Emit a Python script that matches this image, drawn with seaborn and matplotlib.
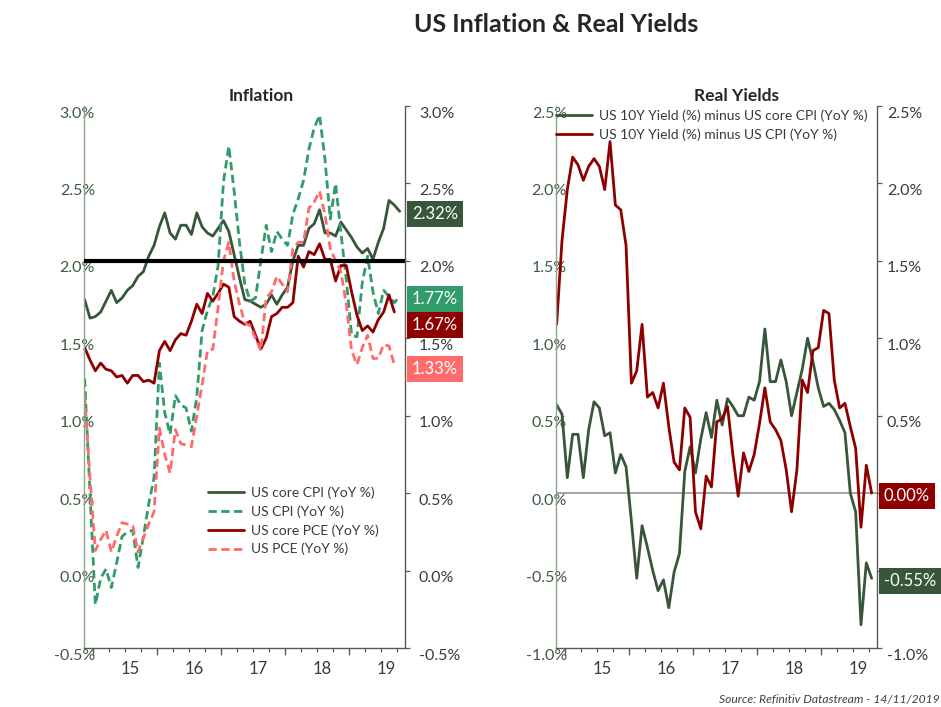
import matplotlib
matplotlib.use("Agg")
import matplotlib.pyplot as plt
import seaborn as sns
import numpy as np
import pandas as pd
from matplotlib.transforms import ScaledTranslation
from matplotlib.ticker import FuncFormatter, FixedLocator

# ---------------- data ----------------
months = pd.date_range("2014-11-01", periods=60, freq="MS")   # Nov 2014 .. Oct 2019

core_cpi = [1.75, 1.63, 1.64, 1.67, 1.74, 1.81, 1.73, 1.76, 1.81, 1.84,
            1.90, 1.93, 2.03, 2.10, 2.22, 2.31, 2.18, 2.14, 2.23, 2.23,
            2.17, 2.31, 2.22, 2.18, 2.16, 2.21, 2.26, 2.19, 2.04, 1.89,
            1.75, 1.74, 1.72, 1.70, 1.72, 1.78, 1.72, 1.78, 1.83, 2.00,
            2.10, 2.10, 2.21, 2.24, 2.33, 2.18, 2.18, 2.16, 2.25, 2.20,
            2.15, 2.09, 2.05, 2.08, 2.01, 2.12, 2.21, 2.39, 2.36, 2.32]
cpi = [1.24, 0.50, -0.22, -0.05, 0.01, -0.11, 0.05, 0.22, 0.25, 0.26,
       0.02, 0.22, 0.43, 0.60, 1.34, 1.02, 0.88, 1.13, 1.07, 1.05,
       0.90, 1.12, 1.55, 1.68, 1.77, 1.97, 2.51, 2.74, 2.45, 2.12,
       1.85, 1.74, 1.76, 2.00, 2.23, 2.06, 2.19, 2.14, 2.10, 2.30,
       2.40, 2.52, 2.72, 2.86, 2.94, 2.66, 2.27, 2.50, 2.18, 1.88,
       1.52, 1.51, 1.86, 2.03, 1.80, 1.66, 1.81, 1.77, 1.73, 1.77]
core_pce = [1.44, 1.36, 1.29, 1.34, 1.30, 1.29, 1.25, 1.26, 1.21, 1.26,
            1.26, 1.22, 1.23, 1.21, 1.42, 1.48, 1.42, 1.49, 1.53, 1.52,
            1.61, 1.72, 1.66, 1.79, 1.74, 1.79, 1.85, 1.83, 1.64, 1.61,
            1.59, 1.61, 1.52, 1.43, 1.50, 1.64, 1.66, 1.70, 1.70, 1.73,
            2.03, 1.96, 2.06, 2.04, 2.11, 2.01, 2.01, 1.87, 1.97, 1.97,
            1.80, 1.65, 1.55, 1.58, 1.54, 1.62, 1.67, 1.78, 1.67]
pce = [1.13, 0.60, 0.13, 0.20, 0.26, 0.12, 0.22, 0.31, 0.30, 0.29,
       0.12, 0.21, 0.30, 0.38, 0.92, 0.75, 0.63, 0.91, 0.82, 0.81,
       0.80, 1.00, 1.20, 1.42, 1.43, 1.70, 2.00, 2.12, 1.87, 1.72,
       1.60, 1.58, 1.50, 1.42, 1.76, 1.80, 1.90, 1.85, 1.80, 2.08,
       2.12, 2.12, 2.34, 2.38, 2.45, 2.30, 2.08, 2.00, 1.93, 1.72,
       1.42, 1.33, 1.44, 1.52, 1.37, 1.37, 1.46, 1.45, 1.33]
real_core = [0.57, 0.51, 0.10, 0.38, 0.38, 0.10, 0.41, 0.59, 0.55, 0.37,
             0.39, 0.13, 0.25, 0.17, -0.18, -0.55, -0.21, -0.35, -0.50, -0.63,
             -0.56, -0.74, -0.51, -0.39, 0.14, 0.30, 0.13, 0.35, 0.52, 0.36,
             0.60, 0.44, 0.61, 0.56, 0.50, 0.50, 0.62, 0.60, 0.72, 1.06,
             0.72, 0.72, 0.86, 0.72, 0.50, 0.65, 0.80, 1.00, 0.85, 0.68,
             0.56, 0.58, 0.54, 0.47, 0.39, 0.00, -0.12, -0.85, -0.45, -0.55]
real_head = [1.09, 1.63, 1.96, 2.17, 2.12, 2.02, 2.11, 2.16, 2.11, 1.96,
             2.27, 1.86, 1.83, 1.60, 0.71, 0.79, 1.09, 0.62, 0.65, 0.55,
             0.71, 0.43, 0.20, 0.15, 0.55, 0.49, -0.12, -0.23, 0.11, 0.04,
             0.46, 0.48, 0.56, 0.25, -0.02, 0.26, 0.14, 0.25, 0.45, 0.68,
             0.46, 0.41, 0.34, 0.15, -0.12, 0.15, 0.73, 0.65, 0.92, 0.94,
             1.18, 1.16, 0.73, 0.55, 0.58, 0.43, 0.29, -0.22, 0.18, 0.00]

labels_left = ["US core CPI (YoY %)", "US CPI (YoY %)", "US core PCE (YoY %)", "US PCE (YoY %)"]
labels_right = ["US 10Y Yield (%) minus US core CPI (YoY %)", "US 10Y Yield (%) minus US CPI (YoY %)"]
year_labels = ["15", "16", "17", "18", "19"]
target_level = 2.0
left_ticks = [-0.5, 0.0, 0.5, 1.0, 1.5, 2.0, 2.5, 3.0]
right_ticks = [-1.0, -0.5, 0.0, 0.5, 1.0, 1.5, 2.0, 2.5]
right_hidden = [-0.5, 0.0]   # right-hand labels of the Real Yields panel covered by the value tags

# ---------------- style ----------------
C_CORE = "#38563a"
C_CPI = "#2f9c6a"
C_CPCE = "#8e0000"
C_PCE = "#ff6b6b"
C_LTICK = "#3e5b3e"
C_GREY = "#595959"
C_TEXT = "#3a3a3a"

sns.set_theme(style="white")
plt.rcParams["font.family"] = ["Lato", "DejaVu Sans"]

fig = plt.figure(figsize=(9.41, 7.07), dpi=100)
W, H = 941, 707
ax1 = fig.add_axes([84 / W, 59 / H, 321 / W, 542 / H])
ax2 = fig.add_axes([556 / W, 59 / H, 321 / W, 542 / H])

idx = np.arange(len(months))
LW = 2.0
DASH = (0, (3.0, 1.6))

# left panel lines
sns.lineplot(x=idx, y=core_cpi, ax=ax1, color=C_CORE, linewidth=LW, label=labels_left[0])
sns.lineplot(x=idx, y=cpi, ax=ax1, color=C_CPI, linewidth=LW, linestyle=DASH, label=labels_left[1])
sns.lineplot(x=idx[:len(core_pce)], y=core_pce, ax=ax1, color=C_CPCE, linewidth=LW, label=labels_left[2])
sns.lineplot(x=idx[:len(pce)], y=pce, ax=ax1, color=C_PCE, linewidth=LW, linestyle=DASH, label=labels_left[3])
ax1.axhline(target_level, color="black", lw=3.0, zorder=5)

# right panel lines
sns.lineplot(x=idx, y=real_core, ax=ax2, color=C_CORE, linewidth=LW, label=labels_right[0])
sns.lineplot(x=idx, y=real_head, ax=ax2, color=C_CPCE, linewidth=LW, label=labels_right[1])
ax2.axhline(0.0, color="#8c8c8c", lw=1.1, zorder=1)

# tick positions derived from the monthly calendar (Excel-style: ticks between months)
m = months.month
quarter_pos = idx[np.isin(m, [1, 4, 7, 10])] - 0.5
year_pos = idx[m == 1] - 0.5
label_pos = idx[m == 7] + 0.5

fmt = FuncFormatter(lambda v, p: f"{v:.1f}%")
TICK_FS = 11.5


def style_panel(ax, yticks, r_dx, hidden=()):
    ax.set_xlim(-0.12, 60.0)
    ax.set_ylim(yticks[0], yticks[-1])
    ax.set_xlabel("")
    ax.set_ylabel("")
    ax.grid(False)
    for s in ["top", "right"]:
        ax.spines[s].set_visible(False)
    ax.spines["left"].set_color("#8da58d")
    ax.spines["left"].set_linewidth(1.0)
    ax.spines["bottom"].set_color(C_GREY)
    ax.spines["bottom"].set_linewidth(1.0)

    ax.yaxis.set_major_locator(FixedLocator(yticks))
    ax.yaxis.set_major_formatter(fmt)
    ax.tick_params(axis="y", which="major", left=False, length=0, pad=0,
                   labelsize=TICK_FS, labelcolor=C_LTICK)
    off = ScaledTranslation(0.11, -0.06, fig.dpi_scale_trans)
    for t in ax.yaxis.get_major_ticks():
        t.label1.set_transform(t.label1.get_transform() + off)

    ax.set_xticks(label_pos)
    ax.set_xticklabels(year_labels)
    ax.set_xticks(quarter_pos, minor=True)
    ax.tick_params(axis="x", which="major", bottom=True, length=0, pad=9,
                   labelsize=12, labelcolor=C_TEXT)
    ax.tick_params(axis="x", which="minor", bottom=True, length=2.6, width=0.9,
                   color=C_GREY, direction="out")

    sec = ax.secondary_xaxis("bottom")
    sec.set_xticks(year_pos)
    sec.set_xticklabels([""] * len(year_pos))
    sec.tick_params(axis="x", length=5.0, width=0.9, color=C_GREY, direction="out")
    sec.spines["bottom"].set_visible(False)

    axr = ax.twinx()
    axr.set_ylim(yticks[0], yticks[-1])
    for s in ["top", "left", "bottom"]:
        axr.spines[s].set_visible(False)
    axr.spines["right"].set_color(C_GREY)
    axr.spines["right"].set_linewidth(1.0)
    axr.yaxis.set_major_locator(FixedLocator(yticks))
    axr.yaxis.set_major_formatter(fmt)
    axr.tick_params(axis="y", right=True, length=3.6, width=0.9, color=C_GREY,
                    direction="out", pad=0, labelsize=TICK_FS, labelcolor=C_TEXT)
    offr = ScaledTranslation(r_dx, -0.06, fig.dpi_scale_trans)
    for v, t in zip(yticks, axr.yaxis.get_major_ticks()):
        t.label2.set_transform(t.label2.get_transform() + offr)
        if v in hidden:
            t.label2.set_visible(False)
    axr.grid(False)
    return axr


ax1r = style_panel(ax1, left_ticks, 0.09)
ax2r = style_panel(ax2, right_ticks, 0.05, right_hidden)

# legends
LEG = dict(loc="upper left", frameon=False, fontsize=10, handlelength=2.6,
           handletextpad=0.5, labelspacing=0.45, borderpad=0, borderaxespad=0,
           labelcolor=C_TEXT)
ax1.legend(bbox_to_anchor=(0.386, 0.298), **LEG)
ax2.legend(bbox_to_anchor=(0.0, 0.993), **LEG)


def tag(axr, value, color, dy=-2.0):
    axr.annotate(f"{value:.2f}%", xy=(1.0, value), xycoords=axr.get_yaxis_transform(),
                 xytext=(5.0, dy), textcoords="offset points", ha="left", va="center",
                 color="white", fontsize=12, zorder=10, annotation_clip=False,
                 bbox=dict(boxstyle="square,pad=0.3", fc=color, ec="none"))


tag(ax1r, core_cpi[-1], C_CORE)
tag(ax1r, cpi[-1], C_CPI)
tag(ax1r, core_pce[-1], C_CPCE, dy=-9.5)
tag(ax1r, pce[-1], C_PCE, dy=-3.0)
tag(ax2r, real_head[-1], C_CPCE)
tag(ax2r, real_core[-1], C_CORE)

# titles and source
fig.text(556 / W, 1 - 25 / H, "US Inflation & Real Yields", ha="center", va="center",
         fontsize=18, weight="bold", color="#262626")
fig.text(261 / W, 1 - 96 / H, "Inflation", ha="center", va="center",
         fontsize=12.5, weight="bold", color="#262626")
fig.text(736 / W, 1 - 96 / H, "Real Yields", ha="center", va="center",
         fontsize=12.5, weight="bold", color="#262626")
fig.text(940 / W, 1 - 700 / H, "Source: Refinitiv Datastream - 14/11/2019",
         ha="right", va="center", fontsize=8.7, style="italic", color="#404040")

fig.savefig("out.png", dpi=100)
